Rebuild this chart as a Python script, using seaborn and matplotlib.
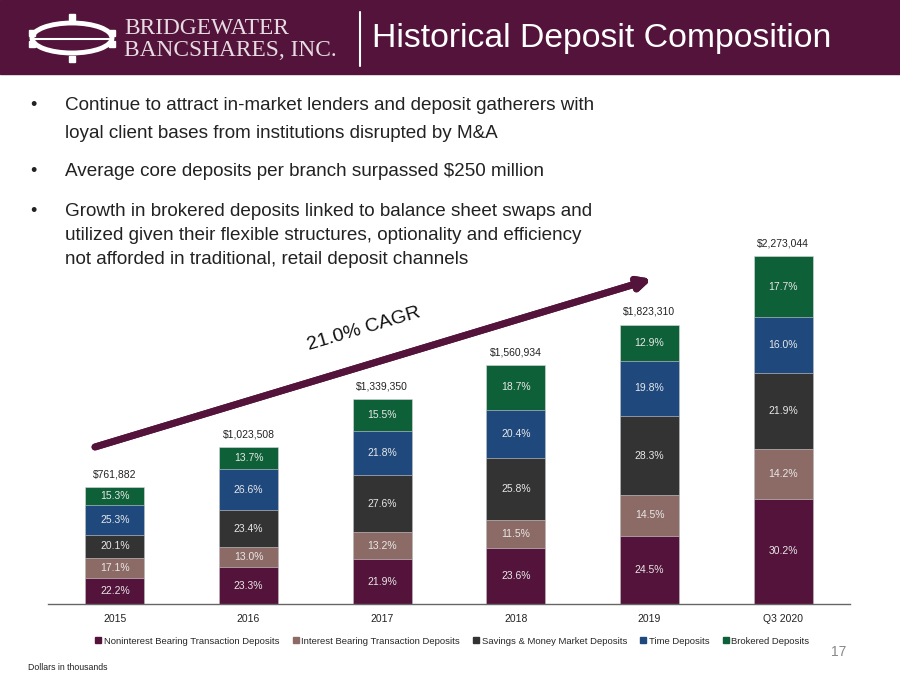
import numpy as np
import pandas as pd
import seaborn as sns
import matplotlib.pyplot as plt
from matplotlib.patches import Rectangle, Ellipse
from matplotlib.lines import Line2D
import matplotlib.patheffects as pe

categories = ['2015', '2016', '2017', '2018', '2019', 'Q3 2020']
totals = [761882, 1023508, 1339350, 1560934, 1823310, 2273044]
series = ['Noninterest Bearing Transaction Deposits', 'Interest Bearing Transaction Deposits',
          'Savings & Money Market Deposits', 'Time Deposits', 'Brokered Deposits']
nonint_pct = [22.2, 23.3, 21.9, 23.6, 24.5, 30.2]
intbear_pct = [17.1, 13.0, 13.2, 11.5, 14.5, 14.2]
savings_pct = [20.1, 23.4, 27.6, 25.8, 28.3, 21.9]
time_pct = [25.3, 26.6, 21.8, 20.4, 19.8, 16.0]
brokered_pct = [15.3, 13.7, 15.5, 18.7, 12.9, 17.7]
colors = ['#53133A', '#8C6B67', '#333333', '#1F497D', '#0E6038']

bullets = [
    ['Continue to attract in-market lenders and deposit gatherers with',
     'loyal client bases from institutions disrupted by M&A'],
    ['Average core deposits per branch surpassed $250 million'],
    ['Growth in brokered deposits linked to balance sheet swaps and',
     'utilized given their flexible structures, optionality and efficiency',
     'not afforded in traditional, retail deposit channels'],
]

sns.set_style('white')
plt.rcParams['font.family'] = ['Liberation Sans', 'DejaVu Sans']

W, H = 900, 675
fig = plt.figure(figsize=(9, 6.75), dpi=100)

def fx(x):
    return x / W

def fy(y):
    return 1 - y / H

# header bar
fig.patches.append(Rectangle((0, fy(74)), 1, 74 / H, transform=fig.transFigure,
                             color='#53133A', zorder=0))
fig.add_artist(Line2D([fx(360), fx(360)], [fy(12), fy(66)], color='white', lw=1.5))
fig.text(fx(372), fy(38), 'Historical Deposit Composition', color='white', fontsize=24.3,
         va='center', ha='left')

# logo
fig.patches.append(Ellipse((fx(72), fy(38)), 80 / W, 30 / H, transform=fig.transFigure,
                           fill=False, ec='white', lw=3.5))
fig.add_artist(Line2D([fx(34), fx(110)], [fy(39), fy(39)], color='white', lw=1.5))
for px, py in [(32, 33), (32, 44), (112, 33), (112, 44), (72, 17), (72, 59)]:
    fig.patches.append(Rectangle((fx(px - 3), fy(py + 3)), 6 / W, 6 / H,
                                 transform=fig.transFigure, color='white'))
fig.text(fx(124), fy(28), 'BRIDGEWATER', color='#E6DCE2', fontsize=16.8,
         family='Liberation Serif', va='center', ha='left')
fig.text(fx(124), fy(50), 'BANCSHARES, INC.', color='#E6DCE2', fontsize=16.8,
         family='Liberation Serif', va='center', ha='left')

# bullets
line_y = [[106, 134], [172], [212, 236, 260]]
for ys, lines in zip(line_y, bullets):
    fig.text(fx(30), fy(ys[0]), '•', fontsize=13, color='#222222', va='center', ha='left')
    for y, txt in zip(ys, lines):
        fig.text(fx(65), fy(y), txt, fontsize=13.6, color='#222222', va='center', ha='left')

# chart
ax = fig.add_axes([fx(48), fy(604), fx(850) - fx(48), 380 / H])
pcts = [nonint_pct, intbear_pct, savings_pct, time_pct, brokered_pct]
tot = np.array(totals, dtype=float)
vals = [np.array(p) / 100 * tot for p in pcts]
cums = np.cumsum(vals, axis=0)
for i in range(4, -1, -1):
    df = pd.DataFrame({'cat': categories, 'val': cums[i]})
    sns.barplot(data=df, x='cat', y='val', color=colors[i], saturation=1, width=0.44,
                edgecolor='#d9d9d9', linewidth=0.4, ax=ax)

for i in range(5):
    for j in range(len(categories)):
        mid = cums[i][j] - vals[i][j] / 2
        ax.text(j, mid, f'{pcts[i][j]:.1f}%', ha='center', va='center', color='#E8E8E8',
                fontsize=7.5)
for j, t in enumerate(totals):
    ax.text(j, cums[4][j] + 50000, f'${t:,}', ha='center', va='bottom', color='#222222',
            fontsize=7.5)

ax.set_ylim(0, 2480000)
ax.set_xlim(-0.5, 5.5)
ax.set_yticks([])
ax.set_xlabel('')
ax.set_ylabel('')
for s in ['top', 'left', 'right']:
    ax.spines[s].set_visible(False)
ax.spines['bottom'].set_color('#666666')
ax.spines['bottom'].set_linewidth(1)
ax.set_xticks(range(len(categories)))
ax.set_xticklabels(categories, fontsize=7.5, color='#222222')
ax.tick_params(axis='x', which='major', length=0, pad=7)
ax.set_xticks(np.arange(-0.5, 6, 1), minor=True)
ax.tick_params(axis='x', which='minor', length=5, color='#666666', direction='out')

handles = [Line2D([0], [0], marker='s', color='none', markerfacecolor=c, markeredgecolor=c,
                  markersize=4.2) for c in colors]
fig.legend(handles, series, loc='center', bbox_to_anchor=(fx(452), fy(641)), ncol=5,
           frameon=False, handletextpad=0.2, columnspacing=1.3,
           handlelength=0.8, prop={'size': 6.8})

# CAGR arrow
fig.add_artist(plt.annotate('', xy=(fx(652), fy(279)), xytext=(fx(95), fy(447)),
                            xycoords='figure fraction', textcoords='figure fraction',
                            arrowprops=dict(arrowstyle='-|>', lw=5, color='#53133A',
                                            mutation_scale=18, shrinkA=0, shrinkB=0,
                                            path_effects=[pe.withSimplePatchShadow(
                                                offset=(1.5, -1.5), alpha=0.3)])))
fig.text(fx(364), fy(329), '21.0% CAGR', rotation=16.5, fontsize=14, color='#111111',
         ha='center', va='center', rotation_mode='anchor')

fig.text(fx(28), fy(667), 'Dollars in thousands', fontsize=6.3,
         color='#222222', va='center', ha='left')
fig.text(fx(846), fy(652), '17', fontsize=10, color='#888888', va='center', ha='right')

fig.savefig('out.png', dpi=100)
plt.close(fig)
